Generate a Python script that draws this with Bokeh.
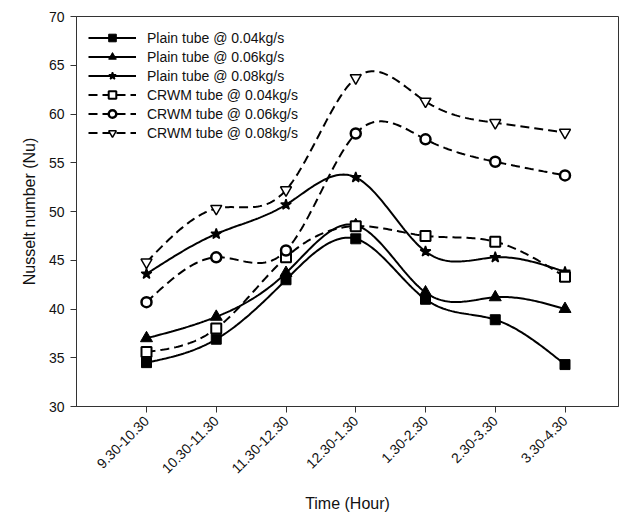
import numpy as np
from bokeh.plotting import figure
from bokeh.models import FixedTicker, Range1d
from bokeh.embed import file_html
from bokeh.resources import INLINE

categories = ["9.30-10.30", "10.30-11.30", "11.30-12.30", "12.30-1.30",
              "1.30-2.30", "2.30-3.30", "3.30-4.30"]
plain_004 = [34.5, 36.9, 43.0, 47.2, 41.0, 38.9, 34.3]
plain_006 = [37.0, 39.2, 43.7, 48.6, 41.7, 41.2, 40.0]
plain_008 = [43.6, 47.7, 50.7, 53.5, 45.9, 45.3, 43.8]
crwm_004 = [35.6, 38.0, 45.3, 48.5, 47.5, 46.9, 43.3]
crwm_006 = [40.7, 45.3, 46.0, 58.0, 57.4, 55.1, 53.7]
crwm_008 = [44.8, 50.3, 52.2, 63.7, 61.3, 59.1, 58.1]
series_names = ["Plain tube @ 0.04kg/s", "Plain tube @ 0.06kg/s", "Plain tube @ 0.08kg/s",
                "CRWM tube @ 0.04kg/s", "CRWM tube @ 0.06kg/s", "CRWM tube @ 0.08kg/s"]


def natural_spline(y, n=40):
    y = np.asarray(y, dtype=float)
    m = len(y)
    x = np.arange(m, dtype=float)
    h = 1.0
    A = np.zeros((m, m))
    b = np.zeros(m)
    A[0, 0] = 1
    A[-1, -1] = 1
    for i in range(1, m - 1):
        A[i, i - 1] = h
        A[i, i] = 4 * h
        A[i, i + 1] = h
        b[i] = 6 * (y[i + 1] - 2 * y[i] + y[i - 1]) / h
    M = np.linalg.solve(A, b)
    xs, ys = [], []
    for i in range(m - 1):
        t = np.linspace(0, 1, n, endpoint=(i == m - 2))
        xx = x[i] + t * h
        a = (x[i + 1] - xx) / h
        bb = (xx - x[i]) / h
        yy = a * y[i] + bb * y[i + 1] + ((a ** 3 - a) * M[i] + (bb ** 3 - bb) * M[i + 1]) * h * h / 6
        xs.extend(xx)
        ys.extend(yy)
    return xs, ys


FONT = "Liberation Sans"
p = figure(width=619, height=514, output_backend="svg", toolbar_location=None,
           x_range=Range1d(-1.0036, 6.767), y_range=Range1d(30, 70),
           min_border_left=76, min_border_right=1, min_border_top=16, min_border_bottom=106)
p.grid.visible = False
p.outline_line_color = "#333333"
p.outline_line_width = 1
p.background_fill_color = "white"

xidx = list(range(len(categories)))
specs = [
    (plain_004, "solid", "square", 10, "black", 1),
    (plain_006, "solid", "triangle", 12, "black", 1),
    (plain_008, "solid", "star", 11, "black", 1.5),
    (crwm_004, "9 5", "square", 10, "white", 2),
    (crwm_006, "9 5", "circle", 10, "white", 2.5),
    (crwm_008, "9 5", "inverted_triangle", 11, "white", 1.5),
]
for (vals, dash, marker, size, fill, lw), name in zip(specs, series_names):
    sx, sy = natural_spline(vals)
    p.line(sx, sy, line_color="black", line_width=2, line_dash=dash, legend_label=name)
    p.scatter(xidx, vals, marker=marker, size=size, fill_color=fill,
              line_color="black", line_width=lw, legend_label=name)

p.xaxis.ticker = FixedTicker(ticks=xidx)
p.xaxis.major_label_overrides = {i: c for i, c in enumerate(categories)}
p.xaxis.major_label_orientation = np.pi / 4
p.yaxis.ticker = FixedTicker(ticks=list(range(30, 71, 5)))

for ax in (p.xaxis[0], p.yaxis[0]):
    ax.axis_line_color = "#333333"
    ax.major_tick_line_color = "#333333"
    ax.major_tick_out = 6
    ax.major_tick_in = 0
    ax.minor_tick_line_color = None
    ax.major_label_text_font = FONT
    ax.major_label_text_font_size = "14px"
    ax.major_label_text_color = "#111111"
    ax.axis_label_text_font = FONT
    ax.axis_label_text_font_size = "16px"
    ax.axis_label_text_font_style = "normal"
    ax.axis_label_text_color = "#111111"
    ax.major_label_standoff = 6

p.xaxis.axis_label = "Time (Hour)"
p.yaxis.axis_label = "Nusselt number (Nu)"
p.xaxis.axis_label_standoff = 14
p.yaxis.axis_label_standoff = 8

lg = p.legend[0]
lg.location = "top_left"
lg.margin = 12
lg.padding = 12
lg.spacing = 0
lg.glyph_width = 48
lg.glyph_height = 19
lg.label_height = 19
lg.label_standoff = 11
lg.label_text_font = FONT
lg.label_text_font_size = "14px"
lg.label_text_color = "#111111"
lg.border_line_color = None
lg.background_fill_alpha = 0

open("out.html", "w").write(file_html(p, INLINE))
